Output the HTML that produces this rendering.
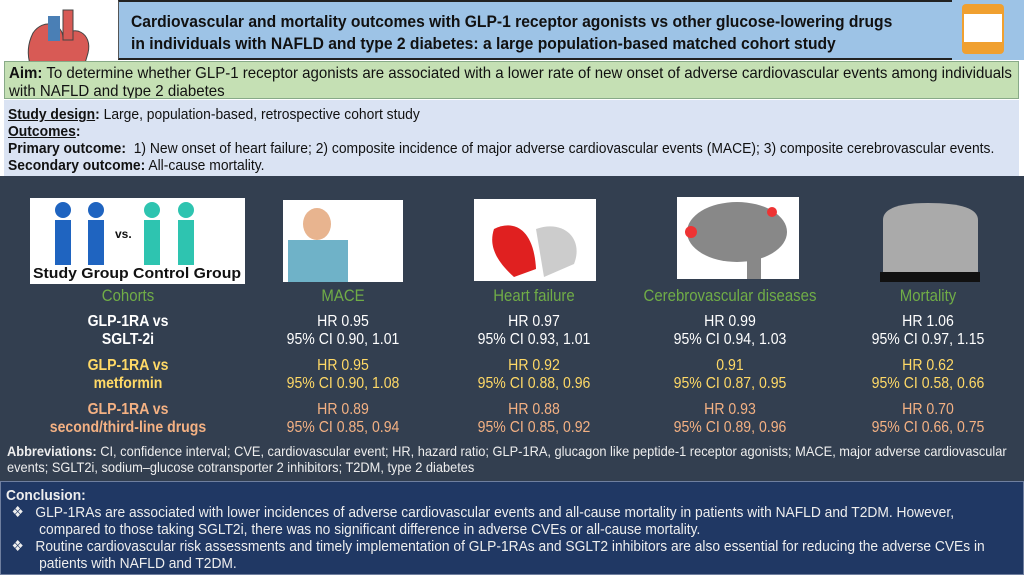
<!DOCTYPE html>
<html><head><meta charset="utf-8"><style>
*{margin:0;padding:0;box-sizing:border-box}
body{width:1024px;height:575px;position:relative;background:#fff;font-family:"Liberation Sans",sans-serif;overflow:hidden}
.a{position:absolute}
.title{left:118px;top:0;width:834px;height:60px;background:#9dc3e6;border-top:2px solid #222;border-bottom:2px solid #222;border-left:1px solid #555;overflow:hidden}
.title div{color:#111;font-weight:bold;font-size:17px;line-height:22px;position:absolute;left:12px;top:9px;width:1000px;transform:scaleX(0.92);transform-origin:0 0;white-space:nowrap}
.aim{left:4px;top:61px;width:1015px;height:38px;background:#c5e0b4;border:1px solid #8a8;overflow:hidden}
.aim div{position:absolute;left:4px;top:3px;width:1075px;font-size:16px;line-height:18px;color:#111;transform:scaleX(0.94);transform-origin:0 0}
.sd{left:4px;top:100px;width:1015px;height:76px;background:#dae3f3;overflow:hidden}
.sd div{position:absolute;left:4px;top:6px;width:1100px;font-size:15px;line-height:17px;color:#111;transform:scaleX(0.925);transform-origin:0 0}
.dark{left:0;top:176px;width:1024px;height:305px;background:#333f50}
.conc{left:0;top:481px;width:1024px;height:94px;background:#203864;border:1px solid #6f7f9f;overflow:hidden}
.conc>div{position:absolute;left:5px;top:5px;width:1080px;color:#eee;font-size:15px;line-height:17px;transform:scaleX(0.92);transform-origin:0 0}
.c{position:absolute;text-align:center;font-size:16px;line-height:18px;color:#fff;transform:scaleX(0.88)}
.g{color:#70ad47;font-size:17px}
.y{color:#ffd966}.o{color:#f4b183}
.img{position:absolute;background:#fff}
</style></head><body>
<div class="a" style="left:18px;top:8px;width:80px;height:95px">
<svg width="80" height="95"><path d="M40 90 C10 70 5 45 15 25 C25 10 45 15 45 30 C55 15 75 25 70 45 C65 65 55 80 40 90Z" fill="#d85a55" stroke="#444"/><rect x="30" y="8" width="12" height="25" fill="#4a7fb5"/><rect x="45" y="2" width="10" height="30" fill="#d85a55" stroke="#444"/></svg></div>
<div class="a title"><div>Cardiovascular and mortality outcomes with GLP-1 receptor agonists vs other glucose-lowering drugs<br>in individuals with NAFLD and type 2 diabetes: a large population-based matched cohort study</div></div>
<div class="a" style="left:952px;top:0;width:72px;height:60px;background:#9dc3e6"><div class="a" style="left:10px;top:4px;width:42px;height:50px;background:#f0a030;border-radius:4px"></div><div class="a" style="left:12px;top:14px;width:38px;height:28px;background:#fff"></div></div>
<div class="a aim"><div><b>Aim:</b> To determine whether GLP-1 receptor agonists are associated with a lower rate of new onset of adverse cardiovascular events among individuals with NAFLD and type 2 diabetes</div></div>
<div class="a sd"><div><b><u>Study design</u>:</b> Large, population-based, retrospective cohort study<br><b><u>Outcomes</u>:</b><br><b>Primary outcome:</b>&nbsp; 1) New onset of heart failure; 2) composite incidence of major adverse cardiovascular events (MACE); 3) composite cerebrovascular events.<br><b>Secondary outcome:</b> All-cause mortality.</div></div>
<div class="a dark"></div>
<div class="img" style="left:30px;top:198px;width:215px;height:86px"><svg width="215" height="86"><g fill="#1f64c0"><circle cx="33" cy="12" r="8"/><rect x="25" y="22" width="16" height="45"/><circle cx="66" cy="12" r="8"/><rect x="58" y="22" width="16" height="45"/></g><g fill="#2ec4b0"><circle cx="122" cy="12" r="8"/><rect x="114" y="22" width="16" height="45"/><circle cx="156" cy="12" r="8"/><rect x="148" y="22" width="16" height="45"/></g><text x="85" y="40" font-size="12" font-weight="bold" fill="#111">vs.</text><text x="3" y="80" font-size="15" font-weight="bold" fill="#111" textLength="208" lengthAdjust="spacingAndGlyphs">Study Group Control Group</text></svg></div>
<div class="img" style="left:283px;top:200px;width:120px;height:82px;background:#fff"><div class="a" style="left:5px;top:40px;width:60px;height:42px;background:#6fb2c8"></div><div class="a" style="left:20px;top:8px;width:28px;height:32px;background:#e8b48f;border-radius:50%"></div></div>
<div class="img" style="left:474px;top:199px;width:122px;height:82px"><svg width="122" height="82"><path d="M20 30 C40 20 60 30 62 70 L40 78 C20 60 15 45 20 30Z" fill="#e02020"/><path d="M62 30 C90 20 110 40 100 65 L70 78Z" fill="#ccc"/></svg></div>
<div class="img" style="left:677px;top:197px;width:122px;height:82px"><svg width="122" height="82"><ellipse cx="60" cy="35" rx="50" ry="30" fill="#888"/><rect x="70" y="55" width="14" height="27" fill="#888"/><circle cx="95" cy="15" r="5" fill="#e33"/><circle cx="14" cy="35" r="6" fill="#e33"/></svg></div>
<div class="img" style="left:878px;top:200px;width:104px;height:82px;background:#333f50"><svg width="104" height="82"><path d="M5 78 L5 20 Q5 3 50 3 Q100 3 100 20 L100 78Z" fill="#aaa"/><rect x="2" y="72" width="100" height="10" fill="#111"/></svg></div>
<div class="c g" style="left:68px;top:287px;width:120px">Cohorts</div>
<div class="c g" style="left:283px;top:287px;width:120px">MACE</div>
<div class="c g" style="left:474px;top:287px;width:120px">Heart failure</div>
<div class="c g" style="left:630px;top:287px;width:200px">Cerebrovascular diseases</div>
<div class="c g" style="left:868px;top:287px;width:120px">Mortality</div>
<div class="c" style="left:58px;top:313px;width:140px;font-weight:bold">GLP-1RA vs<br>SGLT-2i</div>
<div class="c" style="left:263px;top:313px;width:160px">HR 0.95<br>95% CI 0.90, 1.01</div>
<div class="c" style="left:454px;top:313px;width:160px">HR 0.97<br>95% CI 0.93, 1.01</div>
<div class="c" style="left:650px;top:313px;width:160px">HR 0.99<br>95% CI 0.94, 1.03</div>
<div class="c" style="left:848px;top:313px;width:160px">HR 1.06<br>95% CI 0.97, 1.15</div>
<div class="c y" style="left:58px;top:357px;width:140px;font-weight:bold">GLP-1RA vs<br>metformin</div>
<div class="c y" style="left:263px;top:357px;width:160px">HR 0.95<br>95% CI 0.90, 1.08</div>
<div class="c y" style="left:454px;top:357px;width:160px">HR 0.92<br>95% CI 0.88, 0.96</div>
<div class="c y" style="left:650px;top:357px;width:160px">0.91<br>95% CI 0.87, 0.95</div>
<div class="c y" style="left:848px;top:357px;width:160px">HR 0.62<br>95% CI 0.58, 0.66</div>
<div class="c o" style="left:38px;top:401px;width:180px;font-weight:bold">GLP-1RA vs<br>second/third-line drugs</div>
<div class="c o" style="left:263px;top:401px;width:160px">HR 0.89<br>95% CI 0.85, 0.94</div>
<div class="c o" style="left:454px;top:401px;width:160px">HR 0.88<br>95% CI 0.85, 0.92</div>
<div class="c o" style="left:650px;top:401px;width:160px">HR 0.93<br>95% CI 0.89, 0.96</div>
<div class="c o" style="left:848px;top:401px;width:160px">HR 0.70<br>95% CI 0.66, 0.75</div>
<div class="a" style="left:7px;top:443px;width:1100px;color:#eee;font-size:14px;line-height:16px;transform:scaleX(0.915);transform-origin:0 0"><b>Abbreviations:</b> CI, confidence interval; CVE, cardiovascular event; HR, hazard ratio; GLP-1RA, glucagon like peptide-1 receptor agonists; MACE, major adverse cardiovascular events; SGLT2i, sodium–glucose cotransporter 2 inhibitors; T2DM, type 2 diabetes</div>
<div class="a conc"><div><b>Conclusion:</b><br>
<div style="padding-left:36px;text-indent:-30px">❖&nbsp;&nbsp; GLP-1RAs are associated with lower incidences of adverse cardiovascular events and all-cause mortality in patients with NAFLD and T2DM. However, compared to those taking SGLT2i, there was no significant difference in adverse CVEs or all-cause mortality.</div>
<div style="padding-left:36px;text-indent:-30px">❖&nbsp;&nbsp; Routine cardiovascular risk assessments and timely implementation of GLP-1RAs and SGLT2 inhibitors are also essential for reducing the adverse CVEs in patients with NAFLD and T2DM.</div></div></div>
</body></html>
